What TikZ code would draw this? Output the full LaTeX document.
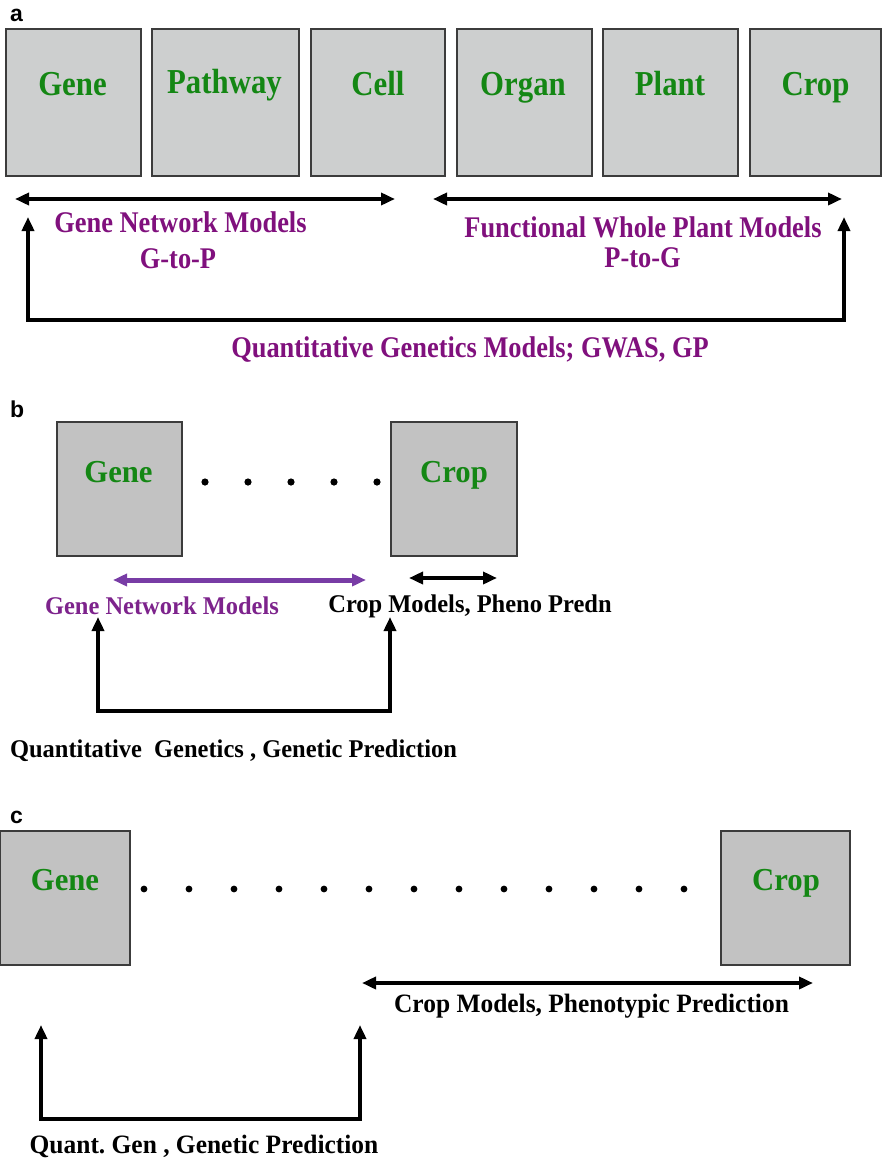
\documentclass[tikz,border=0pt]{standalone}
\usepackage{fontspec}
\setmainfont{Liberation Serif}
\newfontfamily\narrowserif[FakeStretch=0.88]{Liberation Serif}
\newfontfamily\plainserif[FakeStretch=0.96]{Liberation Serif}
\newfontfamily\panelfont{Liberation Sans}
\usetikzlibrary{arrows.meta}

\definecolor{boxgrey}{RGB}{205,207,207}
\definecolor{boxgreyb}{RGB}{194,194,194}
\definecolor{boxline}{RGB}{60,60,60}
\definecolor{labelgreen}{RGB}{20,135,20}
\definecolor{modelpurple}{RGB}{128,16,125}
\definecolor{arrowpurple}{RGB}{120,60,165}
\definecolor{textpurple}{RGB}{125,35,140}

\tikzset{
  level/.style={draw=boxline, fill=boxgrey, line width=1.3pt, minimum height=147pt, inner sep=0pt},
  levelb/.style={draw=boxline, fill=boxgreyb, line width=1.3pt, minimum height=134pt, inner sep=0pt},
  levelname/.style={anchor=base, inner sep=0pt, text=labelgreen, font=\narrowserif\bfseries\fontsize{35}{35}\selectfont},
  levelnameb/.style={anchor=base, inner sep=0pt, text=labelgreen, font=\plainserif\bfseries\fontsize{32}{32}\selectfont},
  modeltext/.style={anchor=base, inner sep=0pt, text=modelpurple, font=\narrowserif\bfseries\fontsize{30}{30}\selectfont},
  modeltextb/.style={anchor=base, inner sep=0pt, font=\plainserif\bfseries\fontsize{25.5}{25.5}\selectfont},
  modeltextc/.style={anchor=base, inner sep=0pt, font=\plainserif\bfseries\fontsize{26.5}{26.5}\selectfont},
  panel/.style={anchor=base west, inner sep=0pt, font=\panelfont\bfseries\fontsize{23}{23}\selectfont},
  twoway/.style={{Triangle[length=14pt,width=12pt]}-{Triangle[length=14pt,width=12pt]}, line width=4.5pt},
  loopback/.style={{Triangle[length=14pt,width=12pt]}-{Triangle[length=14pt,width=12pt]}, line width=4pt},
}

\begin{document}
\begin{tikzpicture}[x=1pt, y=-1pt]
\useasboundingbox (0,0) rectangle (882,1159);

% panel a
\node (pa) [panel] at (10,21) {a};
\node (gene-a) [level, minimum width=135pt] at (73.5,102.5) {};
\node (pathway-a) [level, minimum width=147pt] at (225.5,102.5) {};
\node (cell-a) [level, minimum width=134pt] at (378,102.5) {};
\node (organ-a) [level, minimum width=135pt] at (524.5,102.5) {};
\node (plant-a) [level, minimum width=135pt] at (670.5,102.5) {};
\node (crop-a) [level, minimum width=131pt] at (815.5,102.5) {};
\node (gene-a-t) [levelname] at (72.5,95) {Gene};
\node (pathway-a-t) [levelname] at (224.5,93) {Pathway};
\node (cell-a-t) [levelname] at (378,95) {Cell};
\node (organ-a-t) [levelname] at (523,95.5) {Organ};
\node (plant-a-t) [levelname] at (670,95) {Plant};
\node (crop-a-t) [levelname] at (815.5,95.5) {Crop};

\coordinate (gn-a-l) at (15,199);
\coordinate (gn-a-r) at (395,199);
\coordinate (fw-a-l) at (433,199);
\coordinate (fw-a-r) at (842,199);
\draw [twoway] (gn-a-l) -- (gn-a-r);
\draw [twoway] (fw-a-l) -- (fw-a-r);
\node (gn-a) [modeltext] at (180.5,232) {Gene Network Models};
\node (gp-a) [modeltext] at (178,268) {G-to-P};
\node (fw-a) [modeltext] at (643,237) {Functional Whole Plant Models};
\node (pg-a) [modeltext] at (642.5,267) {P-to-G};

\coordinate (qg-a-l) at (28,217);
\coordinate (qg-a-r) at (844,217);
\draw [twoway] (qg-a-l) -- (28,320) -- (844,320) -- (qg-a-r);
\node (qg-a) [modeltext] at (470,357) {Quantitative Genetics Models; GWAS, GP};

% panel b
\node (pb) [panel] at (10,417) {b};
\node (gene-b) [levelb, minimum width=125pt] at (119.5,489) {};
\node (crop-b) [levelb, minimum width=126pt] at (454,489) {};
\node (gene-b-t) [levelnameb] at (118.5,482) {Gene};
\node (crop-b-t) [levelnameb] at (454,482) {Crop};
\fill (205,482) circle (3.6pt) (248,482) circle (3.6pt) (291,482) circle (3.6pt)
      (334,482) circle (3.6pt) (377,482) circle (3.6pt);

\coordinate (gn-b-l) at (113,580);
\coordinate (gn-b-r) at (366,580);
\coordinate (cm-b-l) at (409,578);
\coordinate (cm-b-r) at (497,578);
\draw [twoway, draw=arrowpurple, fill=arrowpurple, line width=5pt] (gn-b-l) -- (gn-b-r);
\draw [twoway, line width=4pt] (cm-b-l) -- (cm-b-r);
\node (gn-b) [modeltextb, text=textpurple] at (162,614) {Gene Network Models};
\node (cm-b) [modeltextb] at (470,612) {Crop Models, Pheno Predn};

\coordinate (qg-b-l) at (98,617);
\coordinate (qg-b-r) at (390,617);
\draw [loopback] (qg-b-l) -- (98,711) -- (390,711) -- (qg-b-r);
\node (qg-b) [modeltextb] at (233.5,757) {Quantitative\ \ Genetics , Genetic Prediction};

% panel c
\node (pc) [panel] at (10,823) {c};
\node (gene-c) [levelb, minimum width=130pt] at (65,898) {};
\node (crop-c) [levelb, minimum width=129pt] at (785.5,898) {};
\node (gene-c-t) [levelnameb] at (65,890) {Gene};
\node (crop-c-t) [levelnameb] at (786,890) {Crop};
\fill (144,889) circle (3.4pt) (189,889) circle (3.4pt) (234,889) circle (3.4pt)
      (279,889) circle (3.4pt) (324,889) circle (3.4pt) (369,889) circle (3.4pt)
      (414,889) circle (3.4pt) (459,889) circle (3.4pt) (504,889) circle (3.4pt)
      (549,889) circle (3.4pt) (594,889) circle (3.4pt) (639,889) circle (3.4pt)
      (684,889) circle (3.4pt);

\coordinate (cm-c-l) at (362,983);
\coordinate (cm-c-r) at (813,983);
\draw [twoway, line width=4pt] (cm-c-l) -- (cm-c-r);
\node (cm-c) [modeltextc] at (591.5,1012) {Crop Models, Phenotypic Prediction};

\coordinate (qg-c-l) at (41,1025);
\coordinate (qg-c-r) at (360,1025);
\draw [loopback] (qg-c-l) -- (41,1119) -- (360,1119) -- (qg-c-r);
\node (qg-c) [modeltextc] at (204,1153) {Quant.\ Gen , Genetic Prediction};
\end{tikzpicture}
\end{document}
